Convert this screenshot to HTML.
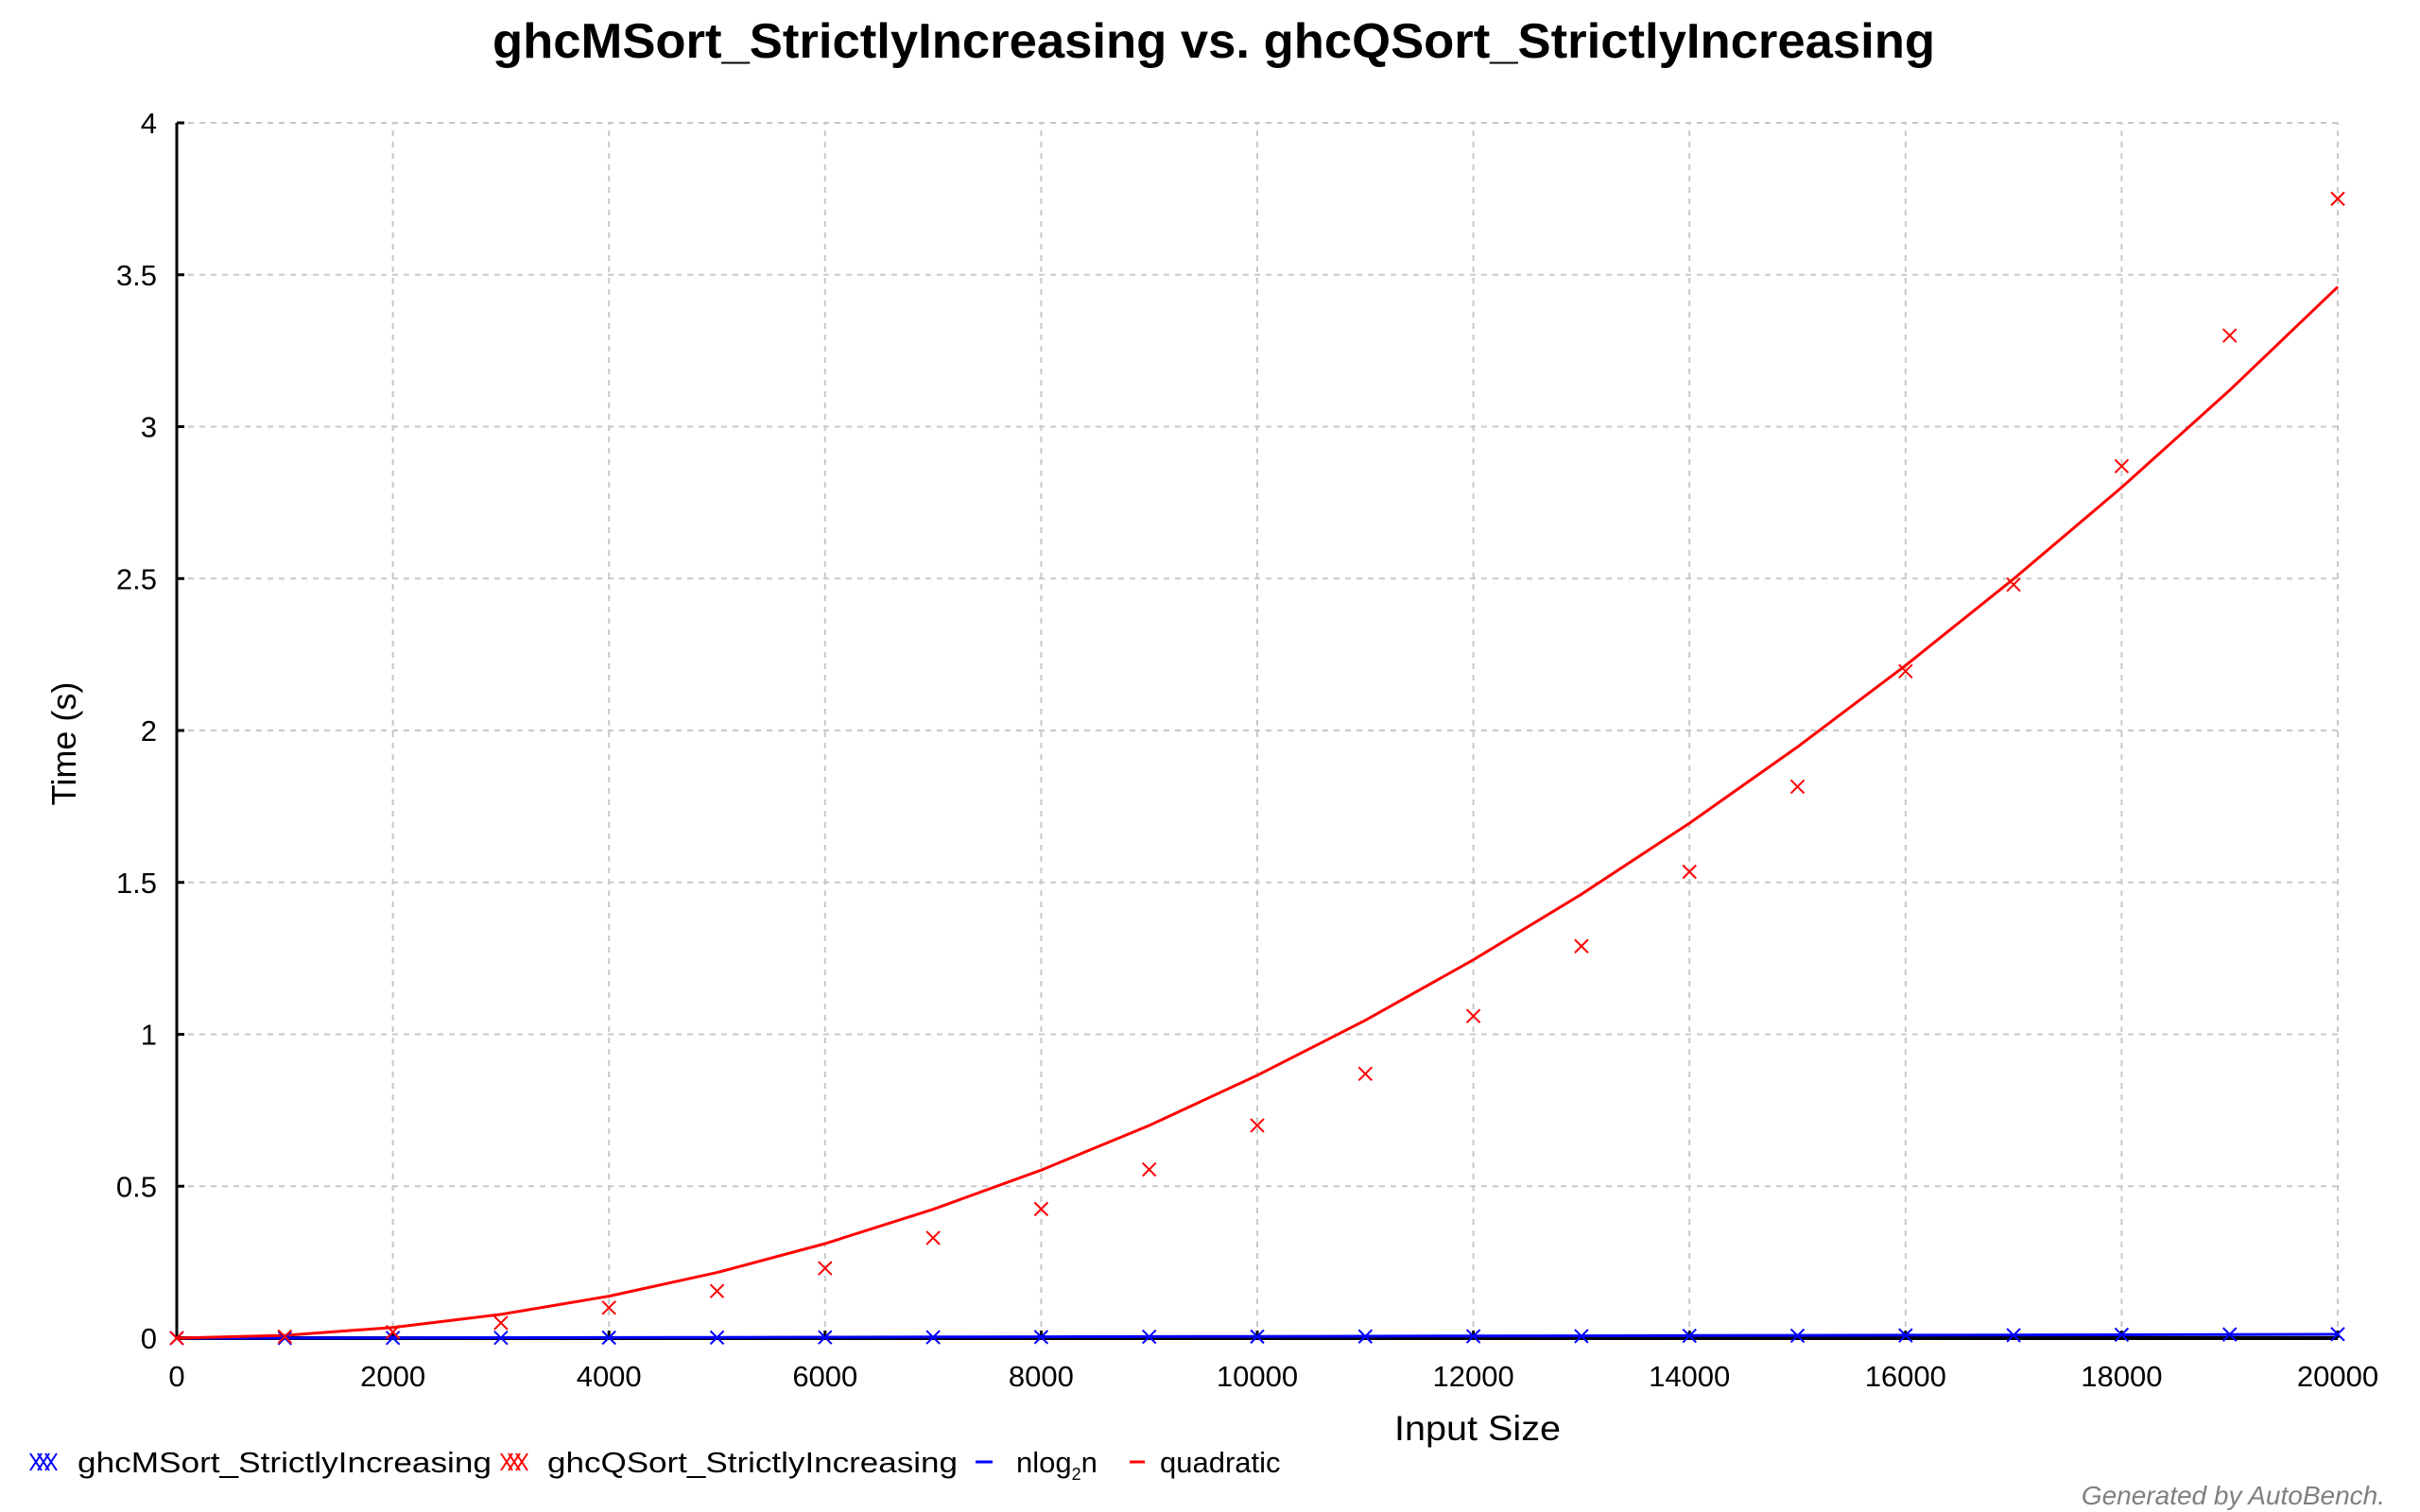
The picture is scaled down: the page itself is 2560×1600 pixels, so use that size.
<!DOCTYPE html>
<html><head><meta charset="utf-8"><style>
html,body{margin:0;padding:0;background:#fff;}
svg{display:block;font-family:"Liberation Sans",Arial,sans-serif;}
</style></head><body>
<svg id="chart" width="2560" height="1600" viewBox="0 0 2560 1600" xmlns="http://www.w3.org/2000/svg">
<text x="1284" y="61" font-size="52" font-weight="bold" text-anchor="middle" textLength="1526" lengthAdjust="spacingAndGlyphs">ghcMSort_StrictlyIncreasing vs. ghcQSort_StrictlyIncreasing</text>
<g id="grid"></g>
<g id="axes"></g>
<g id="series"></g>
<text x="1563" y="1524" font-size="37" text-anchor="middle" textLength="176" lengthAdjust="spacingAndGlyphs">Input Size</text>
<text x="0" y="0" font-size="36" text-anchor="middle" transform="translate(80,787) rotate(-90)">Time (s)</text>
<g id="legend" font-size="31">
  <g>
    <path d="M32,1538L44,1556M32,1556L44,1538M40,1538L52,1556M40,1556L52,1538M48,1538L60,1556M48,1556L60,1538" stroke="#0000ff" stroke-width="2" fill="none"/>
    <text x="82" y="1558" textLength="438" lengthAdjust="spacingAndGlyphs">ghcMSort_StrictlyIncreasing</text>
  </g>
  <g>
    <path d="M530,1538L542,1556M530,1556L542,1538M538,1538L550,1556M538,1556L550,1538M546,1538L558,1556M546,1556L558,1538" stroke="#ff0000" stroke-width="2" fill="none"/>
    <text x="579" y="1558" textLength="434" lengthAdjust="spacingAndGlyphs">ghcQSort_StrictlyIncreasing</text>
  </g>
  <g>
    <line x1="1032" y1="1547" x2="1050" y2="1547" stroke="#0000ff" stroke-width="3"/>
    <text x="1075" y="1558">nlog<tspan font-size="18" dy="8">2</tspan><tspan dy="-8">n</tspan></text>
  </g>
  <g>
    <line x1="1195" y1="1547" x2="1211" y2="1547" stroke="#ff0000" stroke-width="3"/>
    <text x="1227" y="1558">quadratic</text>
  </g>
</g>
<text x="2523" y="1592" font-size="28" font-style="italic" fill="#808080" text-anchor="end">Generated by AutoBench.</text>
</svg>
<script>
const sizes = [0,1000,2000,3000,4000,5000,6000,7000,8000,9000,10000,11000,12000,13000,14000,15000,16000,17000,18000,19000,20000];
const qsortTimes = [0,0.005,0.02,0.05,0.1,0.155,0.23,0.33,0.425,0.555,0.70,0.87,1.06,1.29,1.535,1.815,2.195,2.48,2.87,3.30,3.75];
const msortTimes = [0,0.0003,0.0007,0.001,0.0015,0.002,0.0025,0.003,0.0035,0.0045,0.005,0.0055,0.006,0.0065,0.0075,0.008,0.009,0.0095,0.011,0.012,0.013];
const quadFit = [0,0.009,0.035,0.078,0.138,0.216,0.311,0.424,0.553,0.70,0.865,1.046,1.245,1.461,1.695,1.946,2.214,2.499,2.80,3.12,3.46];
const nlognFit = [0,0.0004,0.0009,0.0015,0.002,0.0026,0.0032,0.0038,0.0044,0.005,0.0057,0.0063,0.007,0.0076,0.0083,0.009,0.0097,0.0103,0.011,0.0117,0.0124];
const xTicks = [0,2000,4000,6000,8000,10000,12000,14000,16000,18000,20000];
const yTicks = [0,0.5,1,1.5,2,2.5,3,3.5,4];
const yTickLabels = ["0","0.5","1","1.5","2","2.5","3","3.5","4"];

const X0=187,X1=2473,Y0=1416,Y1=130;
const xs = v => X0 + (v-0)/(20000-0)*(X1-X0);
const ys = v => Y0 - (v-0)/(4-0)*(Y0-Y1);
const NS="http://www.w3.org/2000/svg";
function mk(tag, attrs, parent){const e=document.createElementNS(NS,tag);for(const k in attrs)e.setAttribute(k,attrs[k]);parent.appendChild(e);return e;}
const grid=document.getElementById('grid'), axes=document.getElementById('axes'), series=document.getElementById('series');

xTicks.forEach((t,i)=>{
  const x=xs(t);
  if(i>0){const g=mk('line',{x1:x,y1:Y0,x2:x,y2:Y1,stroke:'#c8c8c8','stroke-width':2,'stroke-dasharray':'6,6'},grid);
  
  }
  const tk=mk('line',{x1:x,y1:Y0,x2:x,y2:Y0-8,stroke:'#000','stroke-width':3},axes);
  
  
  const lb=mk('text',{x:x,y:Y0+51,'font-size':31,'text-anchor':'middle'},axes);
  lb.textContent=String(t);
  
  
});
yTicks.forEach((t,i)=>{
  const y=ys(t);
  if(i>0){const g=mk('line',{x1:X0,y1:y,x2:X1,y2:y,stroke:'#c8c8c8','stroke-width':2,'stroke-dasharray':'6,6'},grid);
  
  }
  const tk=mk('line',{x1:X0,y1:y,x2:X0+8,y2:y,stroke:'#000','stroke-width':3},axes);
  
  
  const lb=mk('text',{x:X0-21,y:y+11,'font-size':31,'text-anchor':'end'},axes);
  lb.textContent=yTickLabels[i];
  
  
});
const xa=mk('line',{x1:X0,y1:Y0,x2:X1,y2:Y0,stroke:'#000','stroke-width':4},axes);


const ya=mk('line',{x1:X0,y1:Y0,x2:X0,y2:Y1,stroke:'#000','stroke-width':3},axes);



function line(vals,color,name){
  const d=vals.map((v,i)=>(i?'L':'M')+xs(sizes[i]).toFixed(1)+','+ys(v).toFixed(1)).join(' ');
  const p=mk('path',{d:d,fill:'none',stroke:color,'stroke-width':3},series);
  
  
}
function marks(vals,color,name){
  vals.forEach((v,i)=>{
    const x=xs(sizes[i]),y=ys(v),s=7;
    const p=mk('path',{d:`M${x-s},${y-s}L${x+s},${y+s}M${x-s},${y+s}L${x+s},${y-s}`,stroke:color,'stroke-width':2,fill:'none'},series);
    
    
  });
}
line(nlognFit,'#0000ff','nlogn-line');
line(quadFit,'#ff0000','quadratic-line');
marks(msortTimes,'#0000ff','msort-point');
marks(qsortTimes,'#ff0000','qsort-point');
</script>
</body></html>
